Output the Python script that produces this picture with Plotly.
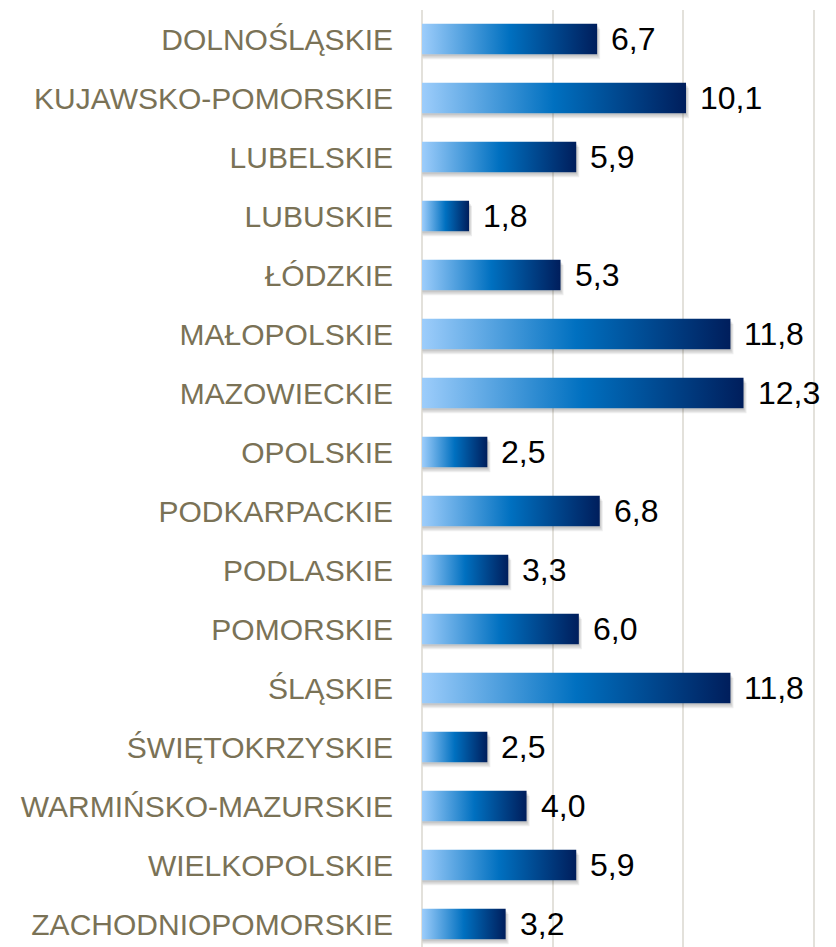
import plotly.graph_objects as go

categories = ["DOLNOŚLĄSKIE", "KUJAWSKO-POMORSKIE", "LUBELSKIE", "LUBUSKIE", "ŁÓDZKIE",
              "MAŁOPOLSKIE", "MAZOWIECKIE", "OPOLSKIE", "PODKARPACKIE", "PODLASKIE",
              "POMORSKIE", "ŚLĄSKIE", "ŚWIĘTOKRZYSKIE", "WARMIŃSKO-MAZURSKIE",
              "WIELKOPOLSKIE", "ZACHODNIOPOMORSKIE"]
values = [6.7, 10.1, 5.9, 1.8, 5.3, 11.8, 12.3, 2.5, 6.8, 3.3, 6.0, 11.8, 2.5, 4.0, 5.9, 3.2]

OFF = 8  # page body margin
W, H = 836 - OFF, 947 - OFF
ML, MT = 422 - OFF, 10 - OFF
PX_X = 26.14
PX_Y = 59.0
XMAX = (W - ML) / PX_X
half = 0.259
FIRST = 39 - OFF  # pixel centre of first bar in figure coords

fig = go.Figure()
grad = [[0, "#9DCDFB"], [0.5, "#0070C0"], [1, "#001E5C"]]

for i, v in enumerate(values):
    for dx, dy, a in [(3, 5, 0.07), (2, 3.5, 0.08), (1, 2, 0.08)]:
        ox, oy = dx / PX_X, dy / PX_Y
        fig.add_trace(go.Scatter(
            x=[ox * 0.3, v + ox, v + ox, ox * 0.3, ox * 0.3],
            y=[i - half + oy, i - half + oy, i + half + oy, i + half + oy, i - half + oy],
            fill="toself", fillcolor=f"rgba(0,0,0,{a})", mode="none",
            hoverinfo="skip", showlegend=False))
    fig.add_trace(go.Scatter(
        x=[0, v, v, 0, 0],
        y=[i - half, i - half, i + half, i + half, i - half],
        fill="toself", mode="none",
        fillgradient=dict(type="horizontal", colorscale=grad, start=0, stop=v),
        hoverinfo="skip", showlegend=False))
    fig.add_annotation(x=v, y=i, text=f"{v:.1f}".replace(".", ","),
                       xanchor="left", yanchor="middle", xshift=12, showarrow=False,
                       font=dict(family="Liberation Sans", size=32, color="#000000"))

top = -(FIRST - MT) / PX_Y
bottom = (H - FIRST) / PX_Y

fig.update_layout(
    width=W, height=H,
    margin=dict(l=ML, r=0, t=MT, b=0, autoexpand=False),
    paper_bgcolor="white", plot_bgcolor="white",
    showlegend=False,
    xaxis=dict(range=[0, XMAX], dtick=5, tick0=0, showgrid=True, gridcolor="#E3E1DB",
               gridwidth=2, zeroline=True, zerolinecolor="#E3E1DB", zerolinewidth=2,
               showticklabels=False, showline=False, fixedrange=True),
    yaxis=dict(range=[bottom, top], tickmode="array", tickvals=list(range(len(categories))),
               ticktext=categories, showgrid=False, zeroline=False, showline=False,
               ticks="outside", ticklen=22, tickcolor="rgba(0,0,0,0)",
               tickfont=dict(family="Liberation Sans", size=30, color="#7A7256")),
)

fig.write_html("out.html")
